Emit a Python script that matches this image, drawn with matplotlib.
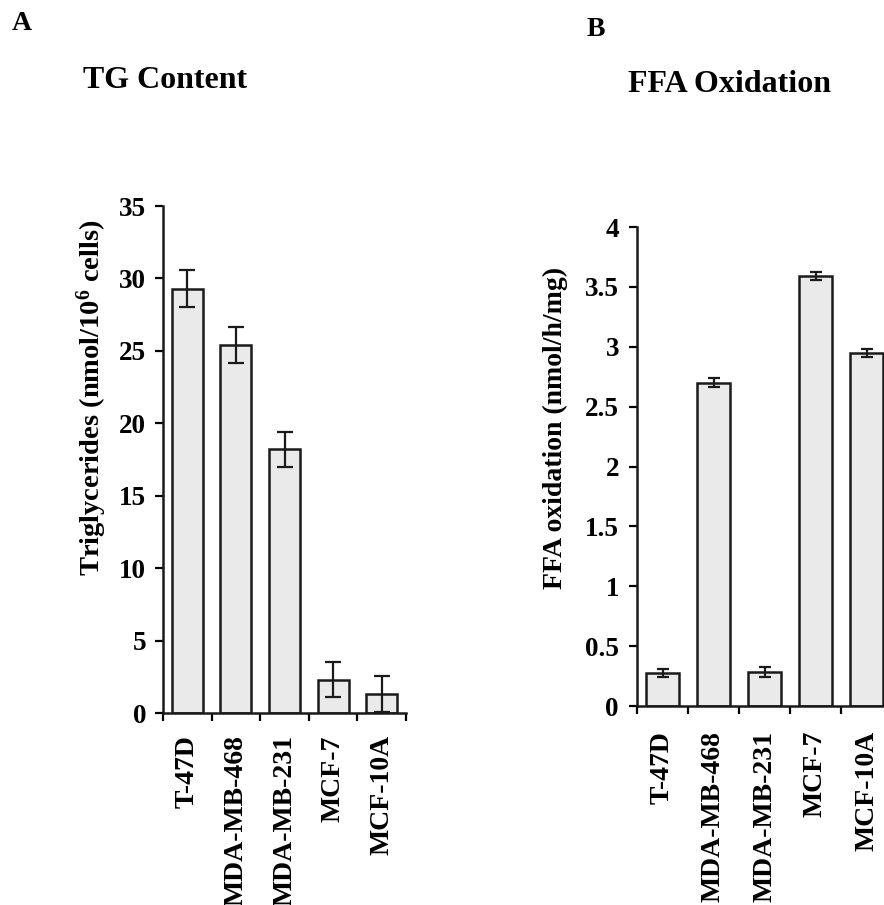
import numpy as np
import matplotlib
matplotlib.use("Agg")
import matplotlib.pyplot as plt

plt.rcParams['font.family'] = ['Liberation Serif', 'DejaVu Serif']
plt.rcParams['font.weight'] = 'bold'
plt.rcParams['mathtext.fontset'] = 'custom'
plt.rcParams['mathtext.rm'] = 'Liberation Serif:bold'
plt.rcParams['mathtext.it'] = 'Liberation Serif:bold'
plt.rcParams['mathtext.bf'] = 'Liberation Serif:bold'

cells = ["T-47D", "MDA-MB-468", "MDA-MB-231", "MCF-7", "MCF-10A"]
tg = [29.3, 25.4, 18.2, 2.3, 1.3]
tg_err = [1.25, 1.25, 1.2, 1.2, 1.25]
ffa = [0.275, 2.70, 0.285, 3.59, 2.95]
ffa_err = [0.035, 0.04, 0.04, 0.035, 0.035]

fig = plt.figure(figsize=(8.84, 9.05), dpi=100)
W, H = 884, 905

def panel(rect, vals, errs, ymax, yticks, ytl, cap, tlpad, ypad):
    ax = fig.add_axes(rect)
    x = np.arange(len(vals)) + 0.5
    ax.bar(x, vals, width=0.64, color='#eaeaea', edgecolor='#1a1a1a', linewidth=1.8, zorder=2)
    ax.errorbar(x, vals, yerr=errs, fmt='none', ecolor='#1a1a1a', elinewidth=1.6,
                capsize=cap, capthick=1.6, zorder=3)
    ax.set_xlim(0, len(vals)); ax.set_ylim(0, ymax)
    for s in ['top', 'right']:
        ax.spines[s].set_visible(False)
    for s in ['left', 'bottom']:
        ax.spines[s].set_linewidth(1.8); ax.spines[s].set_color('#1a1a1a')
    ax.set_yticks(yticks); ax.set_yticklabels(ytl, fontsize=19.5, fontweight='bold')
    ax.tick_params(axis='y', length=6, width=1.6, pad=ypad)
    ax.set_xticks(np.arange(len(vals) + 1))
    ax.set_xticklabels([])
    ax.tick_params(axis='x', which='major', length=6, width=1.6, direction='out')
    ax.set_xticks(x, minor=True)
    ax.set_xticklabels(cells, minor=True, rotation=90, fontsize=20, fontweight='bold', va='top')
    ax.tick_params(axis='x', which='minor', length=0, pad=tlpad)
    ax.patch.set_alpha(0)
    return ax

panel([163/W, 1-713/H, 243/W, 507/H], tg, tg_err, 35, [0, 5, 10, 15, 20, 25, 30, 35],
      ['0', '5', '10', '15', '20', '25', '30', '35'], 6, 16, 6)
panel([637/W, 1-706/H, 255/W, 479/H], ffa, ffa_err, 4, [0, 0.5, 1, 1.5, 2, 2.5, 3, 3.5, 4],
      ['0', '0.5', '1', '1.5', '2', '2.5', '3', '3.5', '4'], 4, 18, 7)

fig.text(92/W, 1-398/H, "Triglycerides (nmol/10$^6$ cells)", rotation=90, ha='center', va='center',
         fontsize=20.5, fontweight='bold')
fig.text(555/W, 1-428/H, "FFA oxidation (nmol/h/mg)", rotation=90, ha='center', va='center',
         fontsize=20, fontweight='bold')
fig.text(165/W, 1-80/H, "TG Content", ha='center', va='center', fontsize=23, fontweight='bold')
fig.text(729/W, 1-84/H, "FFA Oxidation", ha='center', va='center', fontsize=23, fontweight='bold')
fig.text(22/W, 1-24/H, "A", ha='center', va='center', fontsize=20, fontweight='bold')
fig.text(596/W, 1-29/H, "B", ha='center', va='center', fontsize=20, fontweight='bold')

fig.savefig("out.png", dpi=100, facecolor='white')
